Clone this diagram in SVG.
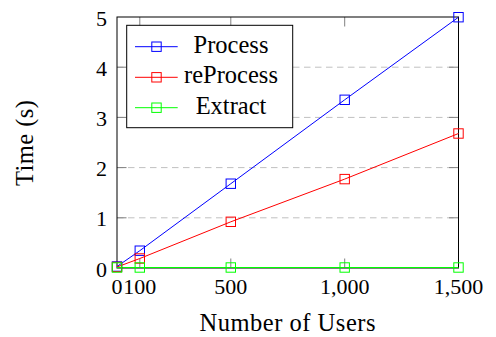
<svg xmlns="http://www.w3.org/2000/svg" width="496" height="337" viewBox="0 0 496 337">
<style>
text{font-family:"Liberation Serif","Times New Roman",serif;font-size:22px;fill:#000}
.w{font-size:24.5px}
.grid{stroke:#c0c0c0;stroke-width:1;stroke-dasharray:6.5 4.5;fill:none}
.tick{stroke:#808080;stroke-width:1;fill:none}
.axis{stroke:#000;stroke-width:1;fill:none}
.mk{fill:none;stroke-width:1}
.b{stroke:#0000ff}
.r{stroke:#ff0000}
.g{stroke:#00ff00}
.line{fill:none;stroke-width:1}
</style>
<defs>
<rect id="sq" x="-4.7" y="-4.7" width="9.4" height="9.4"/>
</defs>
<rect width="496" height="337" fill="#fff"/>
<g id="grid">
<line class="grid" x1="117" y1="217.8" x2="458.5" y2="217.8"/>
<line class="grid" x1="117" y1="167.6" x2="458.5" y2="167.6"/>
<line class="grid" x1="117" y1="117.4" x2="458.5" y2="117.4"/>
<line class="grid" x1="117" y1="67.2" x2="458.5" y2="67.2"/>
</g>
<g id="ticks">
<path class="tick" d="M139.8,268v-9.5M230.8,268v-9.5M344.7,268v-9.5M139.8,17v9.5M230.8,17v9.5M344.7,17v9.5M117,217.8h9.5M117,167.6h9.5M117,117.4h9.5M117,67.2h9.5M458.5,217.8h-9.5M458.5,167.6h-9.5M458.5,117.4h-9.5M458.5,67.2h-9.5"/>
</g>
<g id="axis">
<rect class="axis" x="117" y="17" width="341.5" height="251"/>
</g>
<g id="ticklabels">
<text x="107" y="276.5" text-anchor="end">0</text>
<text x="107" y="226.3" text-anchor="end">1</text>
<text x="107" y="176.1" text-anchor="end">2</text>
<text x="107" y="125.9" text-anchor="end">3</text>
<text x="107" y="75.7" text-anchor="end">4</text>
<text x="107" y="25.5" text-anchor="end">5</text>
<text x="117" y="293.5" text-anchor="middle">0</text>
<text x="139.8" y="293.5" text-anchor="middle">100</text>
<text x="230.8" y="293.5" text-anchor="middle">500</text>
<text x="344.7" y="293.5" text-anchor="middle">1,000</text>
<text x="458.5" y="293.5" text-anchor="middle">1,500</text>
</g>
<g id="axislabels">
<text class="w" x="287.5" y="331" text-anchor="middle" textLength="176" lengthAdjust="spacing">Number of Users</text>
<text class="w" transform="translate(33,143) rotate(-90)" text-anchor="middle" textLength="86" lengthAdjust="spacing">Time (s)</text>
</g>
<g id="connectors">
<polyline id="process-line" class="line b" points="117,266.5 139.8,250.7 230.8,183.7 344.7,99.8 458.5,17.2"/>
<polyline id="reprocess-line" class="line r" points="117,267 139.8,258.5 230.8,221.8 344.7,179.1 458.5,133.5"/>
<polyline id="extract-line" class="line g" points="117,267.5 139.8,267.5 230.8,267.5 344.7,267.5 458.5,267.5"/>
</g>
<g id="process-markers" class="mk b">
<use href="#sq" x="117" y="266.5"/>
<use href="#sq" x="139.8" y="250.7"/>
<use href="#sq" x="230.8" y="183.7"/>
<use href="#sq" x="344.7" y="99.8"/>
<use href="#sq" x="458.5" y="17.2"/>
</g>
<g id="reprocess-markers" class="mk r">
<use href="#sq" x="117" y="267"/>
<use href="#sq" x="139.8" y="258.5"/>
<use href="#sq" x="230.8" y="221.8"/>
<use href="#sq" x="344.7" y="179.1"/>
<use href="#sq" x="458.5" y="133.5"/>
</g>
<g id="extract-markers" class="mk g">
<use href="#sq" x="117" y="267.5"/>
<use href="#sq" x="139.8" y="267.5"/>
<use href="#sq" x="230.8" y="267.5"/>
<use href="#sq" x="344.7" y="267.5"/>
<use href="#sq" x="458.5" y="267.5"/>
</g>
<g id="legend">
<rect x="126.7" y="25.3" width="166" height="102.4" fill="#fff" stroke="#000" stroke-width="1"/>
<g id="legend-process">
<line class="line b" x1="135" y1="46.7" x2="177.7" y2="46.7"/>
<use href="#sq" x="156.5" y="46.7" class="mk b"/>
<text class="w" x="231" y="52.5" text-anchor="middle">Process</text>
</g>
<g id="legend-reprocess">
<line class="line r" x1="135" y1="77.3" x2="177.7" y2="77.3"/>
<use href="#sq" x="156.5" y="77.3" class="mk r"/>
<text class="w" x="231" y="83" text-anchor="middle">reProcess</text>
</g>
<g id="legend-extract">
<line class="line g" x1="135" y1="107.7" x2="177.7" y2="107.7"/>
<use href="#sq" x="156.5" y="107.7" class="mk g"/>
<text class="w" x="231" y="113.5" text-anchor="middle">Extract</text>
</g>
</g>
</svg>
